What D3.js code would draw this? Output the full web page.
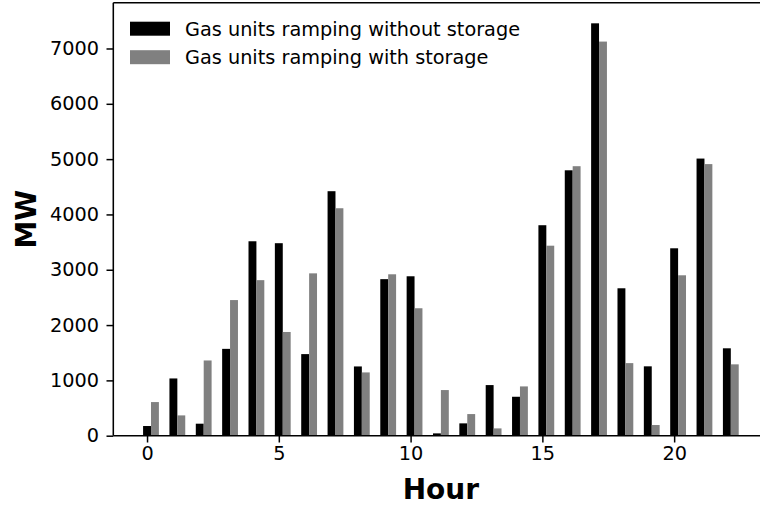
<!DOCTYPE html>
<html>
<head>
<meta charset="utf-8">
<script src="https://cdn.jsdelivr.net/npm/d3@7/dist/d3.min.js"></script>
<style>
  html, body { margin: 0; padding: 0; background: #ffffff; }
  svg { display: block; }
  text { font-family: "DejaVu Sans", sans-serif; fill: #000000; }
</style>
</head>
<body>
<svg id="chart" width="760" height="506"></svg>
<script>
// Hourly gas-unit ramping, in MW
const hours = d3.range(0, 23);
const withoutStorage = [175, 1035, 217, 1570, 3515, 3480, 1475, 4420, 1252, 2830, 2882,
  42, 223, 915, 704, 3805, 4798, 7455, 2665, 1254, 3388, 5010, 1580];
const withStorage = [608, 367, 1360, 2452, 2812, 1875, 2935, 4112, 1144, 2918, 2304,
  825, 391, 132, 891, 3435, 4872, 7125, 1312, 193, 2900, 4910, 1290];
const xTicks = [0, 5, 10, 15, 20];
const yTicks = [0, 1000, 2000, 3000, 4000, 5000, 6000, 7000];
const seriesNames = ["Gas units ramping without storage", "Gas units ramping with storage"];
const seriesColors = ["#000000", "#808080"];

const svg = d3.select("#chart");
const W = 760, H = 506;
const plot = { left: 113.3, top: 2.7, bottom: 435.7, right: 768.5 };
const barW = 0.3;

const yMax = d3.max(withoutStorage.concat(withStorage)) * 1.05;
const xLo = -barW / 2, xHi = hours[hours.length - 1] + barW * 1.5;
const xPad = (xHi - xLo) * 0.05;

const x = d3.scaleLinear().domain([xLo - xPad, xHi + xPad]).range([plot.left, plot.right]);
const y = d3.scaleLinear().domain([0, yMax]).range([plot.bottom, plot.top]);

svg.append("rect").attr("width", W).attr("height", H).attr("fill", "#ffffff");

// bars: black series left of each hour, grey series right next to it
const g = svg.append("g");
g.selectAll("rect.wo").data(hours).join("rect")
  .attr("class", "wo")
  .attr("x", d => x(d - barW / 2))
  .attr("width", d => x(d + barW / 2) - x(d - barW / 2))
  .attr("y", d => y(withoutStorage[d]))
  .attr("height", d => y(0) - y(withoutStorage[d]))
  .attr("fill", seriesColors[0]);
g.selectAll("rect.ws").data(hours).join("rect")
  .attr("class", "ws")
  .attr("x", d => x(d + barW / 2))
  .attr("width", d => x(d + barW * 1.5) - x(d + barW / 2))
  .attr("y", d => y(withStorage[d]))
  .attr("height", d => y(0) - y(withStorage[d]))
  .attr("fill", seriesColors[1]);

// axes
const tickFont = 19.3;
const xAxis = d3.axisBottom(x).tickValues(xTicks).tickSize(6.8).tickPadding(4.2).tickFormat(d3.format("d"));
const yAxis = d3.axisLeft(y).tickValues(yTicks).tickSize(6.8).tickPadding(7.5).tickFormat(d3.format("d"));

const gx = svg.append("g").attr("transform", `translate(0,${plot.bottom})`).call(xAxis);
const gy = svg.append("g").attr("transform", `translate(${plot.left},0)`).call(yAxis);
[gx, gy].forEach(a => {
  a.select(".domain").remove();
  a.selectAll(".tick line").attr("stroke", "#000").attr("stroke-width", 1.5);
  a.selectAll(".tick text").style("font-size", tickFont + "px").attr("fill", "#000");
});

// spines
const spine = svg.append("g").attr("stroke", "#000").attr("stroke-width", 1.55).attr("fill", "none");
spine.append("line").attr("x1", plot.left).attr("x2", plot.left).attr("y1", plot.top).attr("y2", plot.bottom);
spine.append("line").attr("x1", plot.left).attr("x2", plot.right).attr("y1", plot.bottom).attr("y2", plot.bottom);
spine.append("line").attr("x1", plot.left).attr("x2", plot.right).attr("y1", plot.top).attr("y2", plot.top);
spine.append("line").attr("x1", plot.right).attr("x2", plot.right).attr("y1", plot.top).attr("y2", plot.bottom);

// axis titles
svg.append("text")
  .attr("x", (plot.left + plot.right) / 2).attr("y", 498.5)
  .attr("text-anchor", "middle")
  .style("font-size", "28px").style("font-weight", "bold")
  .text("Hour");
svg.append("text")
  .attr("transform", `translate(36,${(plot.top + plot.bottom) / 2}) rotate(-90)`)
  .attr("text-anchor", "middle")
  .style("font-size", "28px").style("font-weight", "bold")
  .text("MW");

// legend
const leg = svg.append("g").attr("transform", "translate(130,21.7)");
seriesNames.forEach((name, i) => {
  const row = leg.append("g").attr("transform", `translate(0,${i * 28.5})`);
  row.append("rect").attr("width", 40).attr("height", 14).attr("fill", seriesColors[i]);
  row.append("text").attr("x", 55).attr("y", 13.8)
    .style("font-size", tickFont + "px").text(name);
});
</script>
</body>
</html>
